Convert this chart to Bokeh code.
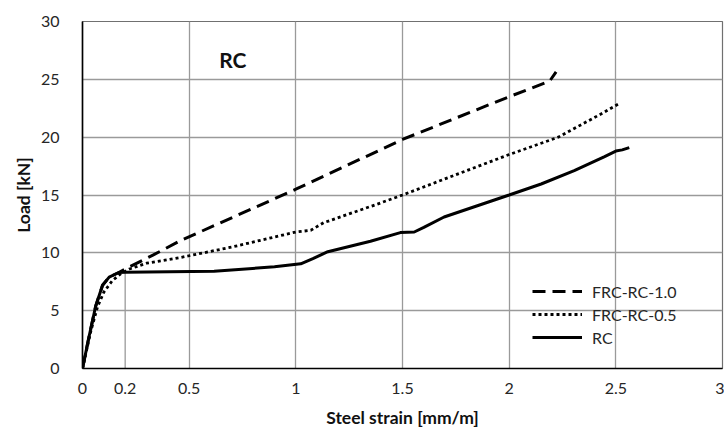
from bokeh.plotting import figure
from bokeh.models import (Range1d, FixedTicker, Label, Legend, LegendItem,
                          CustomJSTickFormatter)
from bokeh.embed import file_html
from bokeh.resources import INLINE

# Load vs. steel strain for the three beam types
frc10_strain = [0, 0.03, 0.062, 0.094, 0.125, 0.17, 0.2, 0.33, 0.46, 1.0, 1.5, 2.0, 2.1, 2.19, 2.22]
frc10_load = [0, 2.7, 5.4, 7.2, 7.9, 8.3, 8.6, 9.8, 11.06, 15.5, 19.8, 23.5, 24.2, 24.85, 25.65]

frc05_strain = [0, 0.04, 0.07, 0.1, 0.14, 0.18, 0.22, 0.3, 0.46, 0.7, 1.0, 1.07, 1.13, 1.38, 1.5,
                2.0, 2.23, 2.43, 2.51]
frc05_load = [0, 3.3, 5.3, 6.6, 7.6, 8.2, 8.6, 9.1, 9.6, 10.5, 11.8, 11.95, 12.6, 14.2, 15.0,
              18.5, 20.0, 22.0, 22.84]

rc_strain = [0, 0.03, 0.062, 0.094, 0.125, 0.17, 0.2, 0.617, 0.9, 1.023, 1.08, 1.15, 1.35, 1.49,
             1.555, 1.6, 1.695, 2.0, 2.15, 2.305, 2.445, 2.5, 2.53, 2.563]
rc_load = [0, 2.7, 5.4, 7.2, 7.9, 8.3, 8.33, 8.4, 8.8, 9.05, 9.5, 10.1, 11.0, 11.75,
           11.8, 12.2, 13.1, 15.0, 15.95, 17.1, 18.3, 18.8, 18.9, 19.1]

# Yield strain marker of the RC beam
yield_strain = 0.2
yield_load = 8.3

x_ticks = [0, 0.2, 0.5, 1, 1.5, 2, 2.5, 3]
y_ticks = [0, 5, 10, 15, 20, 25, 30]

FONT = "Lato"
GRID = "#9a9a9a"
TXT = "#262626"

p = figure(width=724, height=434, output_backend="svg", toolbar_location=None,
           x_range=Range1d(0, 3), y_range=Range1d(0, 30),
           min_border_left=82, min_border_right=2, min_border_top=21, min_border_bottom=66)
p.background_fill_color = "white"
p.border_fill_color = "white"
p.outline_line_color = "#707070"
p.outline_line_width = 1.2

# axes
p.xaxis.ticker = FixedTicker(ticks=x_ticks)
p.yaxis.ticker = FixedTicker(ticks=y_ticks)
p.xaxis.formatter = CustomJSTickFormatter(code="return tick.toString();")
for ax in (p.xaxis[0], p.yaxis[0]):
    ax.major_tick_line_color = None
    ax.minor_tick_line_color = None
    ax.axis_line_color = "black"
    ax.axis_line_width = 1.6
    ax.major_label_text_font = FONT
    ax.major_label_text_font_size = "16px"
    ax.major_label_text_color = TXT
    ax.axis_label_text_font = FONT
    ax.axis_label_text_font_style = "bold"
    ax.axis_label_text_font_size = "17.5px"
    ax.axis_label_text_color = "#111111"
p.xaxis.axis_label = "Steel strain [mm/m]"
p.yaxis.axis_label = "Load [kN]"
p.xaxis.major_label_standoff = 8
p.yaxis.major_label_standoff = 17
p.xaxis.axis_label_standoff = 10
p.yaxis.axis_label_standoff = 4

# grid
p.xgrid.ticker = FixedTicker(ticks=[0.5, 1, 1.5, 2, 2.5])
p.ygrid.ticker = FixedTicker(ticks=[5, 10, 15, 20, 25])
for g in (p.xgrid[0], p.ygrid[0]):
    g.grid_line_color = GRID
    g.grid_line_width = 1.3

# short marker line at the yield strain
p.segment(x0=[yield_strain], y0=[0], x1=[yield_strain], y1=[yield_load],
          line_color=GRID, line_width=1.3)

r10 = p.line(frc10_strain, frc10_load, line_color="black", line_width=3,
             line_dash="13 7")
r05 = p.line(frc05_strain, frc05_load, line_color="black", line_width=2.8,
             line_dash="3 3")
rrc = p.line(rc_strain, rc_load, line_color="black", line_width=3)

p.add_layout(Label(x=0.705, y=26.75, text="RC", text_font=FONT,
                   text_font_style="bold", text_font_size="21px",
                   text_color="#111111", text_align="center",
                   text_baseline="middle"))

legend = Legend(items=[LegendItem(label="FRC-RC-1.0", renderers=[r10]),
                       LegendItem(label="FRC-RC-0.5", renderers=[r05]),
                       LegendItem(label="RC", renderers=[rrc])],
                location=(450, 21))
legend.border_line_color = None
legend.background_fill_alpha = 0
legend.padding = 0
legend.margin = 0
legend.spacing = 3
legend.glyph_width = 50
legend.glyph_height = 20
legend.label_height = 20
legend.label_standoff = 10
legend.label_text_font = FONT
legend.label_text_font_size = "16px"
legend.label_text_color = TXT
p.add_layout(legend, "center")

open("out.html", "w").write(file_html(p, INLINE))
